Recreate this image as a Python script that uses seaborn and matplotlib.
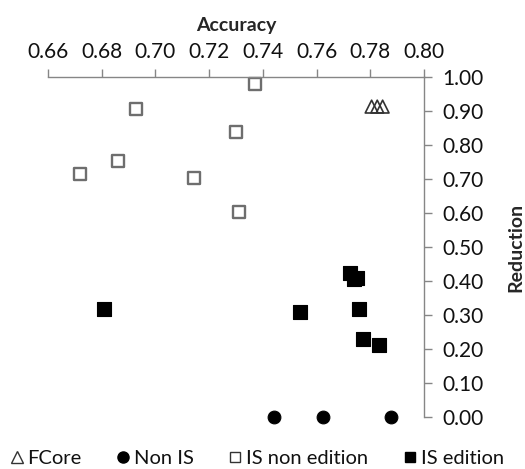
import matplotlib
matplotlib.use("Agg")
import matplotlib.pyplot as plt
import seaborn as sns
import pandas as pd
from matplotlib.lines import Line2D

sns.set_theme(style="white")
plt.rcParams['font.family'] = ['Lato', 'DejaVu Sans']

fcore_acc = [0.7805, 0.7826, 0.7846]
fcore_red = [0.913, 0.913, 0.913]

nonis_acc = [0.7441, 0.7625, 0.7878]
nonis_red = [0.0, 0.0, 0.0]

isnon_acc = [0.737, 0.6926, 0.7299, 0.686, 0.672, 0.7144, 0.7311]
isnon_red = [0.980, 0.905, 0.837, 0.753, 0.715, 0.704, 0.603]

ised_acc = [0.681, 0.754, 0.7757, 0.7773, 0.7834, 0.7725, 0.775, 0.774]
ised_red = [0.317, 0.308, 0.317, 0.229, 0.212, 0.424, 0.410, 0.405]

x_ticks = [0.66, 0.68, 0.70, 0.72, 0.74, 0.76, 0.78, 0.80]
y_ticks = [0.0, 0.1, 0.2, 0.3, 0.4, 0.5, 0.6, 0.7, 0.8, 0.9, 1.0]

fig = plt.figure(figsize=(5.25, 4.69), dpi=100)
ax = fig.add_axes([0.0914, 0.1109, 0.7162, 0.7249])

gray = "#868686"
df_f = pd.DataFrame({"Accuracy": fcore_acc, "Reduction": fcore_red})
df_n = pd.DataFrame({"Accuracy": nonis_acc, "Reduction": nonis_red})
df_i = pd.DataFrame({"Accuracy": isnon_acc, "Reduction": isnon_red})
df_e = pd.DataFrame({"Accuracy": ised_acc, "Reduction": ised_red})

sns.scatterplot(data=df_f, x="Accuracy", y="Reduction", marker="^", s=85,
                facecolor="none", edgecolor="#333333", linewidth=1.2, ax=ax)
sns.scatterplot(data=df_n, x="Accuracy", y="Reduction", marker="o", s=85,
                color="black", edgecolor="black", ax=ax)
sns.scatterplot(data=df_i, x="Accuracy", y="Reduction", marker="s", s=85,
                facecolor="white", edgecolor="#6e6e6e", linewidth=1.7, ax=ax)
sns.scatterplot(data=df_e, x="Accuracy", y="Reduction", marker="s", s=100,
                color="black", edgecolor="black", ax=ax)

ax.set_xlim(0.66, 0.80)
ax.set_ylim(0.0, 1.0)
ax.set_xticks(x_ticks)
ax.set_xticklabels([f"{v:.2f}" for v in x_ticks])
ax.set_yticks(y_ticks)
ax.set_yticklabels([f"{v:.2f}" for v in y_ticks])

ax.xaxis.tick_top()
ax.xaxis.set_label_position("top")
ax.yaxis.tick_right()
ax.yaxis.set_label_position("right")

for side in ["left", "bottom"]:
    ax.spines[side].set_visible(False)
for side in ["top", "right"]:
    ax.spines[side].set_visible(True)
    ax.spines[side].set_color(gray)
    ax.spines[side].set_linewidth(1.0)

ax.tick_params(axis="both", which="major", direction="out", length=6,
               width=1.0, color=gray, labelsize=15, labelcolor="#111111", pad=7)
ax.tick_params(axis="x", pad=5)
ax.set_xlabel("Accuracy", fontsize=14, fontweight="bold", labelpad=8)
ax.set_ylabel("Reduction", fontsize=14, fontweight="bold", labelpad=17, rotation=90)
for c in ax.collections:
    c.set_clip_on(False)

handles = [
    Line2D([], [], linestyle="none", marker="^", markersize=8, markerfacecolor="none",
           markeredgecolor="#333333", markeredgewidth=1.0),
    Line2D([], [], linestyle="none", marker="o", markersize=8, color="black"),
    Line2D([], [], linestyle="none", marker="s", markersize=7.5, markerfacecolor="white",
           markeredgecolor="#333333", markeredgewidth=1.0),
    Line2D([], [], linestyle="none", marker="s", markersize=7.5, color="black"),
]
labels = ["FCore", "Non IS", "IS non edition", "IS edition"]
fig.legend(handles, labels, loc="lower center", bbox_to_anchor=(0.49, -0.034), ncol=4,
           frameon=False, fontsize=14.5, handletextpad=0.25, columnspacing=1.75,
           handlelength=0.6, labelcolor="#111111")

fig.savefig("out.png", dpi=100)
